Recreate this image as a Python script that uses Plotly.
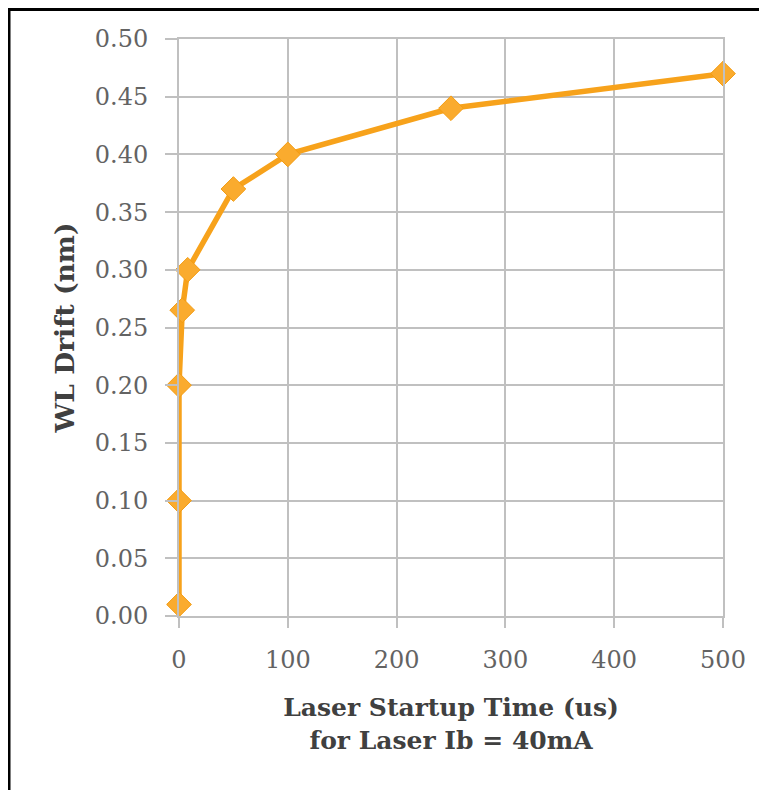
import plotly.graph_objects as go

startup_time_us = [0, 0, 0, 3, 8, 50, 100, 250, 500]
wl_drift_nm = [0.01, 0.10, 0.20, 0.265, 0.30, 0.37, 0.40, 0.44, 0.47]
x_ticks = [0, 100, 200, 300, 400, 500]
y_ticks = [0.0, 0.05, 0.10, 0.15, 0.20, 0.25, 0.30, 0.35, 0.40, 0.45, 0.50]
y_tick_labels = ["0.00", "0.05", "0.10", "0.15", "0.20", "0.25", "0.30", "0.35", "0.40", "0.45", "0.50"]

W, H = 767, 790
OFF = 8  # page offset observed in rendering
L, R, T, B = 179 - OFF, 44 + OFF, 39 - OFF, 174 + OFF

fig = go.Figure()
fig.add_trace(go.Scatter(
    x=startup_time_us, y=wl_drift_nm, mode="lines+markers",
    line=dict(color="#F7A21B", width=5.5),
    marker=dict(symbol="diamond", size=19, color="#FAAB2E", line=dict(color="#F39C12", width=1)),
    showlegend=False, cliponaxis=False,
))

tick_font = dict(family="DejaVu Serif", size=24, color="#636363")
title_font = dict(family="DejaVu Serif", size=25, color="#404040")
grid = "#C0C0C0"

fig.update_xaxes(
    range=[0, 500], tickvals=x_ticks, ticktext=[str(v) for v in x_ticks],
    showgrid=True, gridcolor=grid, gridwidth=2,
    showline=True, linecolor=grid, linewidth=2, mirror=True,
    ticks="outside", ticklen=10, tickwidth=2, tickcolor=grid,
    tickfont=tick_font, zeroline=False, ticklabelstandoff=11,
    title=dict(text="<b>Laser Startup Time (us)<br>for Laser Ib = 40mA</b>", font=title_font, standoff=26),
)
fig.update_yaxes(
    range=[0, 0.5], tickvals=y_ticks, ticktext=y_tick_labels,
    showgrid=True, gridcolor=grid, gridwidth=2,
    showline=True, linecolor=grid, linewidth=2, mirror=True,
    ticks="outside", ticklen=12, tickwidth=2, tickcolor=grid,
    tickfont=tick_font, zeroline=False, ticklabelstandoff=12,
    title=dict(text="<b>WL Drift (nm)</b>", font=dict(family="DejaVu Serif", size=26.5, color="#404040"), standoff=12),
)

pw, ph = W - L - R, H - T - B
def fig_x(fx): return (fx - L) / pw
def fig_y(fy): return 1 - (fy - T) / ph

fig.add_shape(type="line", xref="paper", yref="paper",
              x0=fig_x(1), x1=fig_x(1), y0=fig_y(H + 20), y1=fig_y(0),
              line=dict(color="black", width=3))
fig.add_shape(type="line", xref="paper", yref="paper",
              x0=fig_x(0), x1=fig_x(W + 20), y0=fig_y(1.5), y1=fig_y(1.5),
              line=dict(color="black", width=3))

fig.update_layout(
    width=W, height=H, margin=dict(l=L, r=R, t=T, b=B),
    paper_bgcolor="white", plot_bgcolor="white",
)
fig.write_html("out.html")
